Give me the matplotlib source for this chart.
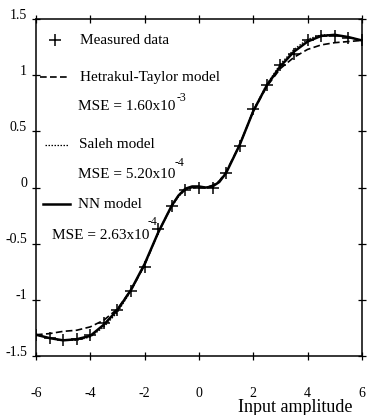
import numpy as np
import matplotlib
matplotlib.use("Agg")
import matplotlib.pyplot as plt
from matplotlib.transforms import ScaledTranslation

plt.rcParams["font.family"] = ["Liberation Serif", "DejaVu Serif"]
plt.rcParams["axes.unicode_minus"] = False

# measured data, every 0.5 of input amplitude
meas_x = [-6, -5.5, -5, -4.5, -4, -3.5, -3, -2.5, -2, -1.5, -1, -0.5, 0,
          0.5, 1, 1.5, 2, 2.5, 3, 3.5, 4, 4.5, 5, 5.5, 6]
meas_y = [-1.31, -1.34, -1.36, -1.35, -1.31, -1.21, -1.09, -0.92, -0.71, -0.37,
          -0.16, -0.02, 0.0, 0.0, 0.13, 0.37, 0.70, 0.91, 1.09, 1.19, 1.31,
          1.35, 1.35, 1.33, 1.31]

# model curves
model_x = [-6, -5.5, -5, -4.5, -4, -3.5, -3, -2.5, -2, -1.5, -1, -0.75, -0.5,
           -0.25, 0, 0.25, 0.5, 0.75, 1, 1.5, 2, 2.5, 3, 3.5, 4, 4.5, 5, 5.5, 6]
ht_y = [-1.31, -1.30, -1.28, -1.27, -1.24, -1.18, -1.08, -0.91, -0.69, -0.40,
        -0.16, -0.07, -0.02, 0.0, 0.0, 0.0, 0.02, 0.06, 0.14, 0.38, 0.68, 0.90,
        1.06, 1.16, 1.23, 1.27, 1.29, 1.30, 1.31]
saleh_y = [-1.31, -1.34, -1.36, -1.36, -1.33, -1.24, -1.11, -0.92, -0.69, -0.40,
           -0.17, -0.08, -0.02, 0.0, 0.01, 0.0, 0.01, 0.05, 0.13, 0.38, 0.69,
           0.92, 1.10, 1.23, 1.32, 1.36, 1.36, 1.34, 1.31]
nn_y = [-1.31, -1.34, -1.36, -1.35, -1.32, -1.22, -1.09, -0.91, -0.68, -0.40,
        -0.16, -0.07, -0.01, 0.01, 0.01, 0.0, 0.01, 0.05, 0.13, 0.38, 0.68,
        0.91, 1.08, 1.21, 1.30, 1.35, 1.36, 1.34, 1.31]

x_ticks = [-6, -4, -2, 0, 2, 4, 6]
y_ticks = [-1.5, -1, -0.5, 0, 0.5, 1, 1.5]
y_tick_labels = ["-1.5", "-1", "-0.5", "0", "0.5", "1", "1.5"]

fig = plt.figure(figsize=(3.75, 4.15), dpi=100)
ax = fig.add_axes([0.096, 0.142, 0.869, 0.812])

ax.plot(model_x, ht_y, color="black", lw=1.2, dashes=(4, 2))
ax.plot(model_x, saleh_y, color="black", lw=0.9, dashes=(1.2, 1.2))
ax.plot(model_x, nn_y, color="black", lw=1.8)
ax.plot(meas_x, meas_y, ls="none", marker="+", ms=9, mew=1.1, color="black")

ax.set_xlim(-6, 6)
ax.set_ylim(-1.5, 1.5)
ax.set_xticks(x_ticks)
ax.set_xticklabels([str(t) for t in x_ticks])
ax.set_yticks(y_ticks)
ax.set_yticklabels(y_tick_labels)
ax.tick_params(direction="inout", length=6, width=0.9, top=True, right=True,
               labelsize=10)
ax.tick_params(axis="x", pad=19)
for s in ax.spines.values():
    s.set_linewidth(1.1)

# y labels sit a bit above their ticks in the original
off = ScaledTranslation(0, 4 / 72, fig.dpi_scale_trans)
for lab in ax.get_yticklabels():
    lab.set_transform(lab.get_transform() + off)

# legend drawn by hand
fs = 11
ax.plot([-5.29], [1.31], marker="+", ms=9, mew=1.1, color="black")
ax.text(-4.38, 1.31, "Measured data", fontsize=fs, va="center")
ax.plot([-5.85, -4.82], [0.98, 0.98], color="black", lw=1.2, dashes=(4, 2))
ax.text(-4.38, 0.98, "Hetrakul-Taylor model", fontsize=fs, va="center")
ax.text(-4.45, 0.72, "MSE = 1.60x10", fontsize=fs, va="center")
ax.text(-0.82, 0.80, "-3", fontsize=8.5, va="center")
ax.plot([-5.66, -4.82], [0.38, 0.38], color="black", lw=0.9, dashes=(1.2, 1.2))
ax.text(-4.42, 0.38, "Saleh model", fontsize=fs, va="center")
ax.text(-4.45, 0.115, "MSE = 5.20x10", fontsize=fs, va="center")
ax.text(-0.88, 0.22, "-4", fontsize=8.5, va="center")
ax.plot([-5.73, -4.74], [-0.15, -0.15], color="black", lw=1.8)
ax.text(-4.45, -0.15, "NN model", fontsize=fs, va="center")
ax.text(-5.40, -0.43, "MSE = 2.63x10", fontsize=fs, va="center")
ax.text(-1.90, -0.31, "-4", fontsize=8.5, va="center")

fig.text(353 / 375, 1 - 407 / 415, "Input amplitude", fontsize=13,
         ha="right", va="center")

fig.savefig("out.png", dpi=100)
